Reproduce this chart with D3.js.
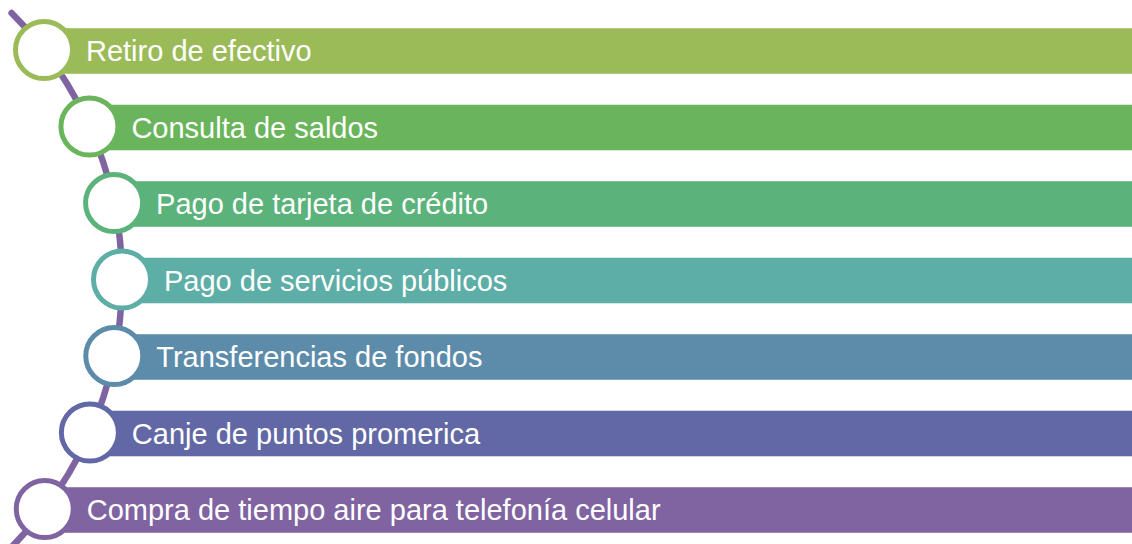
<!DOCTYPE html>
<html>
<head>
<meta charset="utf-8">
<script src="https://cdn.jsdelivr.net/npm/d3@7"></script>
<style>
  body { margin: 0; background: #fff; }
  svg { display: block; }
</style>
</head>
<body>
<div id="chart"></div>
<script>
// items of the list, top to bottom
var labels = [
  "Retiro de efectivo",
  "Consulta de saldos",
  "Pago de tarjeta de crédito",
  "Pago de servicios públicos",
  "Transferencias de fondos",
  "Canje de puntos promerica",
  "Compra de tiempo aire para telefonía celular"
]
var colors = ["#9bbb59", "#6ab55c", "#5bb37b", "#5daea6", "#5d8cab", "#6268a5", "#8064a2"]

var width = 1132
var height = 544

var svg = d3.select("#chart")
    .append("svg")
    .attr("width", width)
    .attr("height", height)

// vertical position of each row
var y = d3.scalePoint()
    .domain(labels)
    .range([50, 509])

// the purple line is a big arc, circles sit on it
var R = 378
var midY = 280
var midX = 122
var arcCx = midX - R
function arcX(yy) {
    var dy = yy - midY
    return arcCx + Math.sqrt(R * R - dy * dy)
}

var barH = 46
var circleR = 28.5

// curved line
var a0 = Math.asin((13 - midY) / R)
var a1 = Math.asin((552 - midY) / R)
var p = d3.path()
p.arc(arcCx, midY, R, a0, a1)
svg.append("path")
    .attr("d", p.toString())
    .attr("fill", "none")
    .attr("stroke", "#8064a2")
    .attr("stroke-width", 6.5)
    .attr("stroke-linecap", "round")

var rows = svg.selectAll("g.row")
    .data(labels)
    .enter()
    .append("g")
    .attr("class", "row")

// bars
rows.append("rect")
    .attr("x", function (d) { return arcX(y(d)) })
    .attr("y", function (d) { return y(d) - barH / 2 + 1 })
    .attr("width", function (d) { return width - arcX(y(d)) + 2 })
    .attr("height", barH)
    .attr("fill", function (d, i) { return colors[i] })
    .attr("stroke", "#fff")
    .attr("stroke-opacity", 0.45)
    .attr("stroke-width", 1)

// labels
rows.append("text")
    .attr("x", function (d) { return arcX(y(d)) + 42 })
    .attr("y", function (d) { return y(d) + 11 })
    .attr("fill", "#fff")
    .style("font-family", "'Liberation Sans', Arial, sans-serif")
    .style("font-size", "29px")
    .text(function (d) { return d })

// circles
rows.append("circle")
    .attr("cx", function (d) { return arcX(y(d)) })
    .attr("cy", function (d) { return y(d) })
    .attr("r", circleR)
    .attr("fill", "#fff")
    .attr("stroke", function (d, i) { return colors[i] })
    .attr("stroke-width", 5)
</script>
</body>
</html>
